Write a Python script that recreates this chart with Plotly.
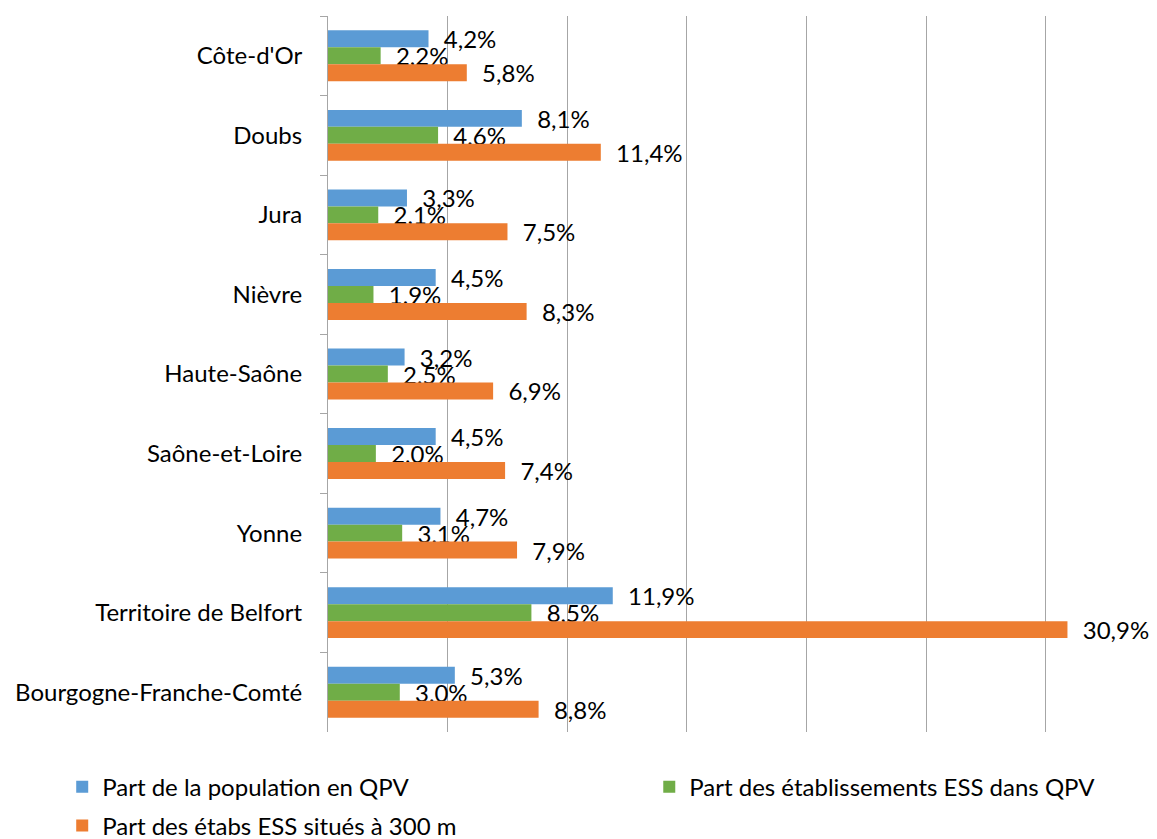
import plotly.graph_objects as go

# Données (en %)
departements = [
    "Côte-d'Or", "Doubs", "Jura", "Nièvre", "Haute-Saône",
    "Saône-et-Loire", "Yonne", "Territoire de Belfort", "Bourgogne-Franche-Comté",
]
part_population_qpv = [4.2, 8.1, 3.3, 4.5, 3.2, 4.5, 4.7, 11.9, 5.3]
part_etab_ess_qpv = [2.2, 4.6, 2.1, 1.9, 2.5, 2.0, 3.1, 8.5, 3.0]
part_etab_ess_300m = [5.8, 11.4, 7.5, 8.3, 6.9, 7.4, 7.9, 30.9, 8.8]

series = [
    ("Part de la population en QPV", part_population_qpv, "#5B9BD5", "legend"),
    ("Part des établissements ESS dans QPV", part_etab_ess_qpv, "#70AD47", "legend2"),
    ("Part des étabs ESS situés à 300 m", part_etab_ess_300m, "#ED7D31", "legend3"),
]

FONT = "Lato, 'Open Sans', sans-serif"
FS = 24
PAD = "\u00a0\u00a0"  # petit écart entre la barre et l'étiquette


def fmt(v):
    return PAD + f"{v:.1f}%".replace(".", ",")


fig = go.Figure()
for name, values, color, leg in series:
    fig.add_trace(go.Bar(
        y=departements,
        x=values,
        orientation="h",
        name=name,
        marker=dict(color=color, line=dict(width=0)),
        text=[fmt(v) for v in values],
        textposition="outside",
        constraintext="none",
        cliponaxis=False,
        textfont=dict(family=FONT, size=FS, color="#000000"),
        legend=leg,
    ))


def legend_box(x, y):
    return dict(
        orientation="h",
        x=x,
        xanchor="left",
        y=y,
        yanchor="middle",
        font=dict(family=FONT, size=FS, color="#000000"),
        itemwidth=30,
        bgcolor="rgba(0,0,0,0)",
    )


fig.update_layout(
    width=1157,
    height=839,
    showlegend=True,
    barmode="group",
    bargap=0.36,
    bargroupgap=0,
    margin=dict(l=320, r=9, t=8, b=115, autoexpand=False),
    plot_bgcolor="white",
    paper_bgcolor="white",
    font=dict(family=FONT, size=FS, color="#000000"),
    xaxis=dict(
        range=[0, 34.6],
        dtick=5,
        showticklabels=False,
        showgrid=True,
        gridcolor="#A6A6A6",
        gridwidth=1,
        zeroline=False,
        showline=False,
        automargin=False,
    ),
    yaxis=dict(
        autorange="reversed",
        showline=True,
        linecolor="#A6A6A6",
        linewidth=1,
        ticks="outside",
        tickson="boundaries",
        ticklen=7,
        tickcolor="#A6A6A6",
        ticklabelstandoff=20,
        automargin=False,
        tickfont=dict(family=FONT, size=FS, color="#000000"),
    ),
    legend=legend_box(-0.321, -0.077),
    legend2=legend_box(0.388, -0.077),
    legend3=legend_box(-0.321, -0.131),
)

fig.write_html("out.html")
